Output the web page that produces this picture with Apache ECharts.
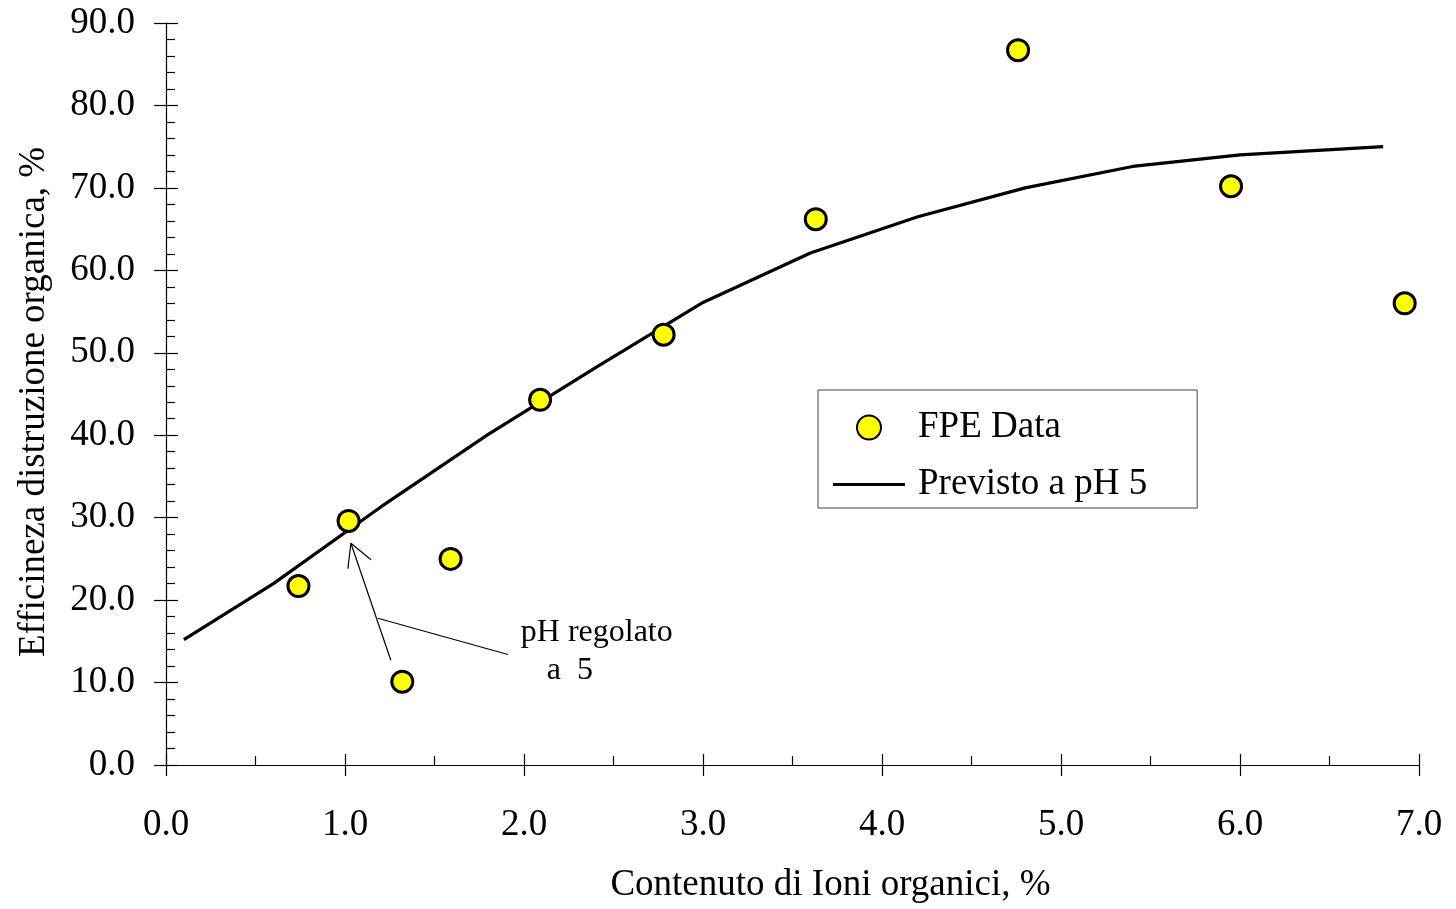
<!DOCTYPE html>
<html>
<head>
<meta charset="utf-8">
<script src="https://cdn.jsdelivr.net/npm/echarts@6/dist/echarts.min.js"></script>
<style>
  html, body { margin: 0; padding: 0; background: #fff; }
  #chart { width: 1456px; height: 909px; }
</style>
</head>
<body>
<div id="chart"></div>
<script>
// Measured points: organic ion content (%) vs destruction efficiency (%)
const fpeX = [0.74, 1.02, 1.32, 1.59, 2.09, 2.78, 3.63, 4.76, 5.95, 6.92];
const fpeY = [21.7, 29.6, 10.1, 25.0, 44.3, 52.2, 66.2, 86.7, 70.2, 56.0];

// Predicted curve at pH 5
const predX = [0.1, 0.6, 1.2, 1.8, 2.4, 3.0, 3.6, 4.2, 4.8, 5.4, 6.0, 6.8];
const predY = [15.2, 22.0, 31.3, 40.1, 48.2, 56.1, 62.1, 66.5, 70.0, 72.6, 74.0, 75.0];

// Callout arrow pointing at the pH-adjusted samples (data units)
const arrowSegments = [
  [[1.033, 26.9], [1.256, 12.7]],
  [[1.033, 26.9], [1.016, 23.8]],
  [[1.033, 26.9], [1.145, 24.9]],
  [[1.184, 17.8], [1.910, 13.4]]
];
const calloutLines = [
  { text: 'pH regolato', at: [1.982, 16.0] },
  { text: 'a  5', at: [2.127, 11.4] }
];

const xTicks = { min: 0, max: 7, step: 1 };
const yTicks = { min: 0, max: 90, step: 10 };

const FONT = '"Liberation Serif", "Times New Roman", serif';
const FS = 37;

const chart = echarts.init(document.getElementById('chart'), null, { renderer: 'canvas' });

const baseX = {
  type: 'value', min: xTicks.min, max: xTicks.max, interval: xTicks.step,
  splitLine: { show: false }
};
const baseY = {
  type: 'value', min: yTicks.min, max: yTicks.max, interval: yTicks.step,
  splitLine: { show: false }
};

chart.setOption({
  animation: false,
  backgroundColor: '#ffffff',
  grid: { left: 166, right: 37, top: 23, bottom: 141, containLabel: false },
  xAxis: [
    Object.assign({}, baseX, {
      position: 'bottom',
      name: 'Contenuto di Ioni organici, %',
      nameLocation: 'middle',
      nameGap: 102,
      nameTextStyle: { fontFamily: FONT, fontSize: FS, color: '#000', padding: [0, 0, 0, 76] },
      axisLine: { show: true, lineStyle: { color: '#000', width: 1.2 } },
      axisTick: { show: true, inside: true, length: 11, lineStyle: { color: '#000', width: 1.2 } },
      minorTick: { show: true, splitNumber: 2, length: 9, lineStyle: { color: '#000', width: 1.2 } },
      axisLabel: {
        fontFamily: FONT, fontSize: FS, color: '#000', margin: 42,
        formatter: v => v.toFixed(1)
      }
    }),
    Object.assign({}, baseX, {
      position: 'bottom',
      axisLine: { show: false },
      axisTick: { show: true, inside: false, length: 11, lineStyle: { color: '#000', width: 1.2 } },
      axisLabel: { show: false }
    })
  ],
  yAxis: [
    Object.assign({}, baseY, {
      position: 'left',
      name: 'Efficineza distruzione organica, %',
      nameLocation: 'middle',
      nameGap: 113,
      nameRotate: 90,
      nameTextStyle: { fontFamily: FONT, fontSize: FS, color: '#000', padding: [0, 16, 0, 0] },
      axisLine: { show: true, lineStyle: { color: '#000', width: 1.2 } },
      axisTick: { show: true, inside: true, length: 12, lineStyle: { color: '#000', width: 1.2 } },
      minorTick: { show: true, splitNumber: 5, length: 9, lineStyle: { color: '#000', width: 1.2 } },
      axisLabel: {
        fontFamily: FONT, fontSize: FS, color: '#000', margin: 31,
        formatter: v => v.toFixed(1)
      }
    }),
    Object.assign({}, baseY, {
      position: 'left',
      axisLine: { show: false },
      axisTick: { show: true, inside: false, length: 12, lineStyle: { color: '#000', width: 1.2 } },
      axisLabel: { show: false }
    })
  ],
  legend: {
    orient: 'vertical',
    left: 818,
    top: 390,
    padding: [19, 50, 5, 15],
    itemWidth: 72,
    itemHeight: 24,
    itemGap: 20,
    symbolKeepAspect: true,
    borderColor: '#444',
    borderWidth: 1,
    textStyle: { fontFamily: FONT, fontSize: FS, color: '#000', padding: [0, 0, 0, 8] },
    data: [
      { name: 'FPE Data' },
      { name: 'Previsto a pH 5', icon: 'path://M0,0L72,0L72,3L0,3Z', itemStyle: { color: '#000', borderWidth: 0 } }
    ]
  },
  series: [
    {
      name: 'Previsto a pH 5',
      type: 'line',
      xAxisIndex: 0, yAxisIndex: 0,
      data: predX.map((x, i) => [x, predY[i]]),
      symbol: 'none',
      smooth: false,
      lineStyle: { color: '#000', width: 3.2 },
      itemStyle: { color: '#000' },
      z: 2,
      markLine: {
        silent: true,
        symbol: ['none', 'none'],
        label: { show: false },
        lineStyle: { color: '#000', width: 1.2, type: 'solid' },
        data: arrowSegments.map(seg => [{ coord: seg[0] }, { coord: seg[1] }])
      },
      markPoint: {
        silent: true,
        symbol: 'circle',
        symbolSize: 0,
        label: {
          show: true, position: 'right', distance: 0,
          fontFamily: FONT, fontSize: 32, color: '#000',
          formatter: p => p.name
        },
        data: calloutLines.map(c => ({ name: c.text, coord: c.at }))
      }
    },
    {
      name: 'FPE Data',
      type: 'scatter',
      xAxisIndex: 0, yAxisIndex: 0,
      data: fpeX.map((x, i) => [x, fpeY[i]]),
      symbol: 'circle',
      symbolSize: 21,
      itemStyle: { color: '#ffff00', borderColor: '#000', borderWidth: 3, opacity: 1 },
      z: 3
    }
  ]
});
</script>
</body>
</html>
